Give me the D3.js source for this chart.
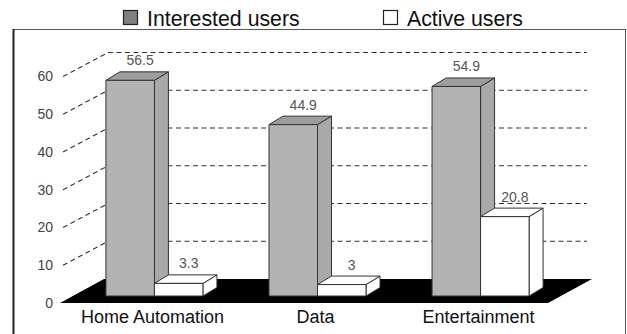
<!DOCTYPE html>
<html><head><meta charset="utf-8">
<script src="https://cdn.jsdelivr.net/npm/d3@7"></script>
<style>body{margin:0;background:#fff}svg{display:block}</style>
</head><body>
<svg id="c" width="627" height="334"></svg>
<script>
const categories = ["Home Automation", "Data", "Entertainment"];
const seriesNames = ["Interested users", "Active users"];
const interested = [56.5, 44.9, 54.9];
const active = [3.3, 3, 20.8];
const ticks = [0, 10, 20, 30, 40, 50, 60];

const svg = d3.select("#c");
const font = "Arial, 'Liberation Sans', sans-serif";

// frame
svg.append("rect").attr("x", 13.5).attr("y", 29.5).attr("width", 612).attr("height", 320)
  .attr("fill", "none").attr("stroke", "#555").attr("stroke-width", 1);
svg.append("line").attr("x1", 13.5).attr("x2", 13.5).attr("y1", 29).attr("y2", 334)
  .attr("stroke", "#222").attr("stroke-width", 2);

// depth offsets
const DX = 44, DY = -24;      // floor / wall depth
const BX = 14, BY = -8.5;     // bar depth

// scales
const yFront = d3.scaleLinear().domain([0, 60]).range([303, 76.5]);
const yBar = d3.scaleLinear().domain([0, 60]).range([296, 67]);
const x0 = d3.scaleBand().domain(categories).range([57, 578]).paddingInner(0.405).paddingOuter(0.3);
const x1 = d3.scaleBand().domain(seriesNames).range([0, x0.bandwidth()]);

const floorLeft = 60, floorRight = 548;
const wallRight = 587;

// floor
const fy = yFront(0);
svg.append("polygon")
  .attr("points", [[floorLeft, fy], [floorRight, fy], [floorRight + DX, fy + DY], [floorLeft + DX, fy + DY]].map(p => p.join(",")).join(" "))
  .attr("fill", "#000");

// grid
const grid = svg.append("g").attr("stroke", "#333").attr("stroke-width", 1.1).attr("stroke-dasharray", "5,3.5").attr("fill", "none");
ticks.filter(t => t > 0).forEach(t => {
  const yf = yFront(t);
  grid.append("path").attr("d", `M${floorLeft + 3},${yf} L${floorLeft + DX + 4},${yf + DY} L${wallRight},${yf + DY}`);
});

// tick labels
svg.append("g").selectAll("text").data(ticks).join("text")
  .attr("x", 53).attr("y", d => yFront(d)).attr("dy", "0.35em")
  .attr("text-anchor", "end").attr("font-family", font).attr("font-size", 14)
  .attr("fill", "#444").text(d => d);

// bars
const data = [];
categories.forEach((c, i) => {
  data.push({ cat: c, s: seriesNames[0], v: interested[i] });
  data.push({ cat: c, s: seriesNames[1], v: active[i] });
});
const fills = {
  [seriesNames[0]]: { front: "#b3b3b3", side: "#a9a9a9", top: "#9d9d9d" },
  [seriesNames[1]]: { front: "#ffffff", side: "#ffffff", top: "#ffffff" }
};
const bars = svg.append("g");
data.forEach(d => {
  const xl = x0(d.cat) + x1(d.s), w = x1.bandwidth();
  const xr = xl + w;
  const yt = yBar(d.v), yb = yBar(0);
  const g = bars.append("g").attr("stroke", "#333").attr("stroke-width", 1).attr("stroke-linejoin", "round");
  const f = fills[d.s];
  g.append("polygon").attr("fill", f.side)
    .attr("points", [[xr, yt], [xr + BX, yt + BY], [xr + BX, yb + BY], [xr, yb]].map(p => p.join(",")).join(" "));
  g.append("polygon").attr("fill", f.top)
    .attr("points", [[xl, yt], [xl + BX, yt + BY], [xr + BX, yt + BY], [xr, yt]].map(p => p.join(",")).join(" "));
  g.append("rect").attr("fill", f.front).attr("x", xl).attr("y", yt).attr("width", w).attr("height", yb - yt);
  svg.append("text").attr("x", xl + w / 2 + 10).attr("y", yt - 15)
    .attr("text-anchor", "middle").attr("font-family", font).attr("font-size", 14)
    .attr("fill", "#555").text(d.v);
});

// category labels
svg.append("g").selectAll("text").data(categories).join("text")
  .attr("x", d => x0(d) + x0.bandwidth() / 2 - 2).attr("y", 322.5)
  .attr("text-anchor", "middle").attr("font-family", font).attr("font-size", 18)
  .attr("fill", "#111").text(d => d);

// legend
const legend = svg.append("g");
const legX = [123, 383];
const legFill = ["#808080", "#ffffff"];
seriesNames.forEach((s, i) => {
  legend.append("rect").attr("x", legX[i] + 0.5).attr("y", 10.5).attr("width", 14).attr("height", 14)
    .attr("fill", legFill[i]).attr("stroke", "#222").attr("stroke-width", 1.2);
  legend.append("text").attr("x", legX[i] + 24).attr("y", 25.5)
    .attr("font-family", font).attr("font-size", 21.3).attr("fill", "#111").text(s);
});
</script>
</body></html>
